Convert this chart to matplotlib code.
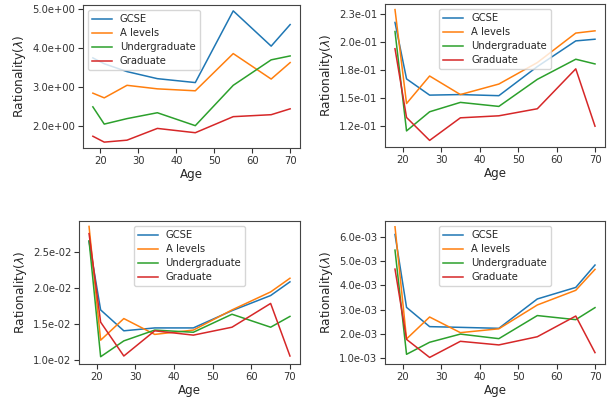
import matplotlib
matplotlib.use("Agg")
import matplotlib.pyplot as plt

ages = [18, 21, 27, 35, 45, 55, 65, 70]
groups = ["GCSE", "A levels", "Undergraduate", "Graduate"]

# panel 1 (top left)
p1_gcse = [3.75, 3.6, 3.4, 3.22, 3.12, 4.95, 4.05, 4.6]
p1_alev = [2.85, 2.73, 3.05, 2.96, 2.91, 3.86, 3.21, 3.63]
p1_ug = [2.5, 2.06, 2.2, 2.35, 2.02, 3.05, 3.7, 3.8]
p1_grad = [1.75, 1.6, 1.65, 1.95, 1.84, 2.25, 2.3, 2.45]

# panel 2 (top right)
p2_gcse = [0.2175, 0.167, 0.1525, 0.153, 0.152, 0.178, 0.201, 0.2025]
p2_alev = [0.229, 0.145, 0.1696, 0.153, 0.1624, 0.1816, 0.208, 0.210]
p2_ug = [0.2094, 0.1205, 0.1376, 0.146, 0.1424, 0.1666, 0.1846, 0.1804]
p2_grad = [0.194, 0.1325, 0.112, 0.1322, 0.134, 0.1403, 0.176, 0.1247]

# panel 3 (bottom left)
p3_gcse = [0.0264, 0.0169, 0.0140, 0.0144, 0.0144, 0.0168, 0.0189, 0.0208]
p3_alev = [0.0285, 0.0127, 0.0157, 0.0135, 0.0141, 0.0169, 0.0194, 0.0213]
p3_ug = [0.0265, 0.0104, 0.0126, 0.0141, 0.0138, 0.0163, 0.0145, 0.0160]
p3_grad = [0.0275, 0.0152, 0.0105, 0.0140, 0.0134, 0.0145, 0.0178, 0.0105]

# panel 4 (bottom right)
p4_gcse = [0.00612, 0.00309, 0.00229, 0.00226, 0.00222, 0.00344, 0.00392, 0.00485]
p4_alev = [0.00644, 0.00178, 0.00269, 0.00204, 0.00220, 0.00319, 0.00380, 0.00467]
p4_ug = [0.00547, 0.00114, 0.00164, 0.00198, 0.00179, 0.00275, 0.00258, 0.00308]
p4_grad = [0.00468, 0.00176, 0.00101, 0.00168, 0.00153, 0.00187, 0.00273, 0.00121]

p1_ticks = [2.0, 3.0, 4.0, 5.0]
p1_labels = ["2.0e+00", "3.0e+00", "4.0e+00", "5.0e+00"]
p2_ticks = [0.125, 0.15, 0.175, 0.2, 0.225]
p2_labels = ["1.2e-01", "1.5e-01", "1.8e-01", "2.0e-01", "2.3e-01"]
p3_ticks = [0.010, 0.015, 0.020, 0.025]
p3_labels = ["1.0e-02", "1.5e-02", "2.0e-02", "2.5e-02"]
p4_ticks = [0.001, 0.002, 0.003, 0.004, 0.005, 0.006]
p4_labels = ["1.0e-03", "2.0e-03", "3.0e-03", "4.0e-03", "5.0e-03", "6.0e-03"]

panels = [
    ([p1_gcse, p1_alev, p1_ug, p1_grad], p1_ticks, p1_labels, (1.45, 5.1), "upper left"),
    ([p2_gcse, p2_alev, p2_ug, p2_grad], p2_ticks, p2_labels, (0.1061, 0.234), "upper center"),
    ([p3_gcse, p3_alev, p3_ug, p3_grad], p3_ticks, p3_labels, (0.00939, 0.02925), "upper center"),
    ([p4_gcse, p4_alev, p4_ug, p4_grad], p4_ticks, p4_labels, (0.000737, 0.00668), "upper center"),
]

# axes boxes in pixels (left, top, right, bottom) of a 608x398 figure
boxes = [(83, 5, 300, 148), (385, 4, 605, 147), (79, 221, 300, 364), (385, 221, 605, 364)]

plt.rcParams["font.size"] = 7.2
plt.rcParams["text.color"] = "#262626"
plt.rcParams["axes.labelcolor"] = "#262626"
plt.rcParams["xtick.color"] = "#333333"
plt.rcParams["ytick.color"] = "#333333"
plt.rcParams["axes.edgecolor"] = "#444444"
fig = plt.figure(figsize=(6.08, 3.98), dpi=100)
W, H = 608, 398

for (series, ticks, labels, ylim, loc), (l, t, r, b) in zip(panels, boxes):
    ax = fig.add_axes([l / W, 1 - b / H, (r - l) / W, (b - t) / H])
    for name, vals in zip(groups, series):
        ax.plot(ages, vals, lw=1.1, label=name)
    ax.set_xlim(15.4, 72.6)
    ax.set_xticks([20, 30, 40, 50, 60, 70])
    ax.set_ylim(*ylim)
    ax.set_yticks(ticks)
    ax.set_yticklabels(labels)
    ax.set_xlabel("Age", fontsize=8.6, labelpad=2)
    ax.set_ylabel(r"Rationality($\lambda$)", fontsize=8.8, labelpad=3)
    ax.tick_params(labelsize=7.2, length=3.5, pad=2)
    ax.legend(loc=loc, fontsize=7.2, labelspacing=0.4)

fig.savefig("out.png", dpi=100)
